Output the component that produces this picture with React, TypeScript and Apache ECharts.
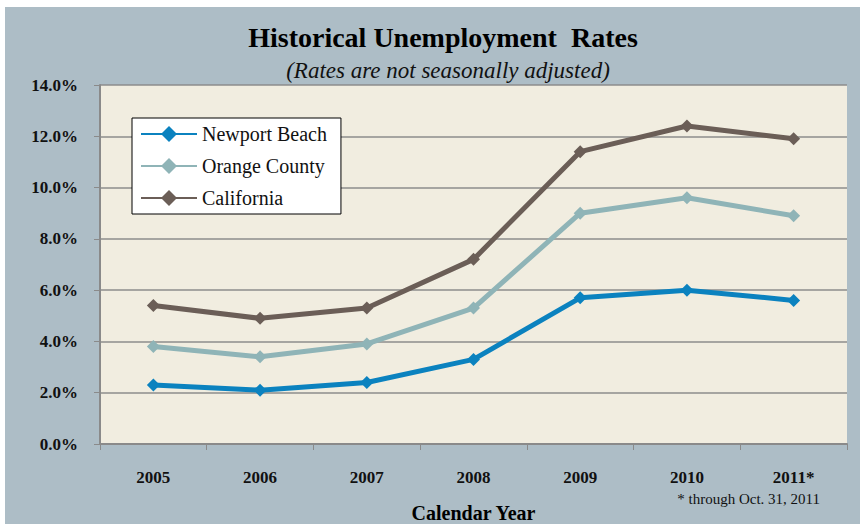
import React, { useEffect, useRef } from "react";
import * as echarts from "echarts";

const years = ["2005", "2006", "2007", "2008", "2009", "2010", "2011*"];
const newportBeach = [2.3, 2.1, 2.4, 3.3, 5.7, 6.0, 5.6];
const orangeCounty = [3.8, 3.4, 3.9, 5.3, 9.0, 9.6, 8.9];
const california = [5.4, 4.9, 5.3, 7.2, 11.4, 12.4, 11.9];

const FONT = "Liberation Serif";

export default function App() {
  const ref = useRef<HTMLDivElement>(null);
  useEffect(() => {
    document.body.style.margin = "0";
    const chart = echarts.init(ref.current!, null, { renderer: "svg" });
    const mk = (name: string, data: number[], color: string) => ({
      name,
      type: "line",
      data,
      symbol: "diamond",
      symbolSize: 13,
      lineStyle: { width: 5, color },
      itemStyle: { color },
    });
    chart.setOption({
      animation: false,
      backgroundColor: "#ffffff",
      textStyle: { fontFamily: FONT },
      graphic: [
        {
          type: "rect",
          z: -10,
          shape: { x: 5, y: 7, width: 860, height: 524 },
          style: { fill: "#adbdc6" },
          silent: true,
        },
        {
          type: "text",
          right: 40,
          top: 491,
          style: {
            text: "* through Oct. 31, 2011",
            fontFamily: FONT,
            fontSize: 15,
            fill: "#111",
          },
        },
      ],
      title: [
        {
          text: "Historical Unemployment  Rates",
          left: 438,
          textAlign: "center",
          top: 18,
          textStyle: { fontFamily: FONT, fontSize: 28, fontWeight: "bold", color: "#000" },
        },
        {
          text: "(Rates are not seasonally adjusted)",
          left: 443,
          textAlign: "center",
          top: 54,
          textStyle: { fontFamily: FONT, fontSize: 23, fontStyle: "italic", fontWeight: "normal", color: "#111" },
        },
      ],
      legend: {
        orient: "vertical",
        left: 132,
        top: 118,
        padding: [6, 14, 6, 8],
        itemGap: 12,
        itemWidth: 56,
        itemHeight: 20,
        backgroundColor: "#ffffff",
        borderColor: "#000",
        borderWidth: 1,
        textStyle: { fontFamily: FONT, fontSize: 20, color: "#111" },
        data: ["Newport Beach", "Orange County", "California"],
      },
      grid: {
        left: 100,
        right: 13,
        top: 85,
        bottom: 80,
        outerBoundsMode: "none",
        containLabel: false,
        backgroundColor: "#f1ede0",
        show: true,
        borderWidth: 0,
      },
      xAxis: {
        type: "category",
        data: years,
        boundaryGap: true,
        name: "Calendar Year",
        nameLocation: "middle",
        nameGap: 59,
        nameTextStyle: { fontFamily: FONT, fontSize: 20, fontWeight: "bold", color: "#000" },
        axisLine: { lineStyle: { color: "#8a8a8a", width: 2 } },
        axisTick: { show: true, length: 6, lineStyle: { color: "#8a8a8a" } },
        axisLabel: { margin: 25, fontFamily: FONT, fontSize: 17, fontWeight: "bold", color: "#111" },
      },
      yAxis: {
        type: "value",
        min: 0,
        max: 14,
        interval: 2,
        axisLine: { show: true, lineStyle: { color: "#8a8a8a", width: 2 } },
        axisTick: { show: true, length: 6, lineStyle: { color: "#8a8a8a" } },
        axisLabel: {
          margin: 22,
          fontFamily: FONT,
          fontSize: 17,
          fontWeight: "bold",
          color: "#111",
          formatter: (v: number) => v.toFixed(1) + "%",
        },
        splitLine: { lineStyle: { color: "#8c8c8c", width: 1.5 } },
      },
      series: [
        mk("Newport Beach", newportBeach, "#0b82bf"),
        mk("Orange County", orangeCounty, "#8fb4b7"),
        mk("California", california, "#6b5e57"),
      ],
    });
    return () => chart.dispose();
  }, []);
  return <div ref={ref} style={{ width: 860, height: 524 }} />;
}
